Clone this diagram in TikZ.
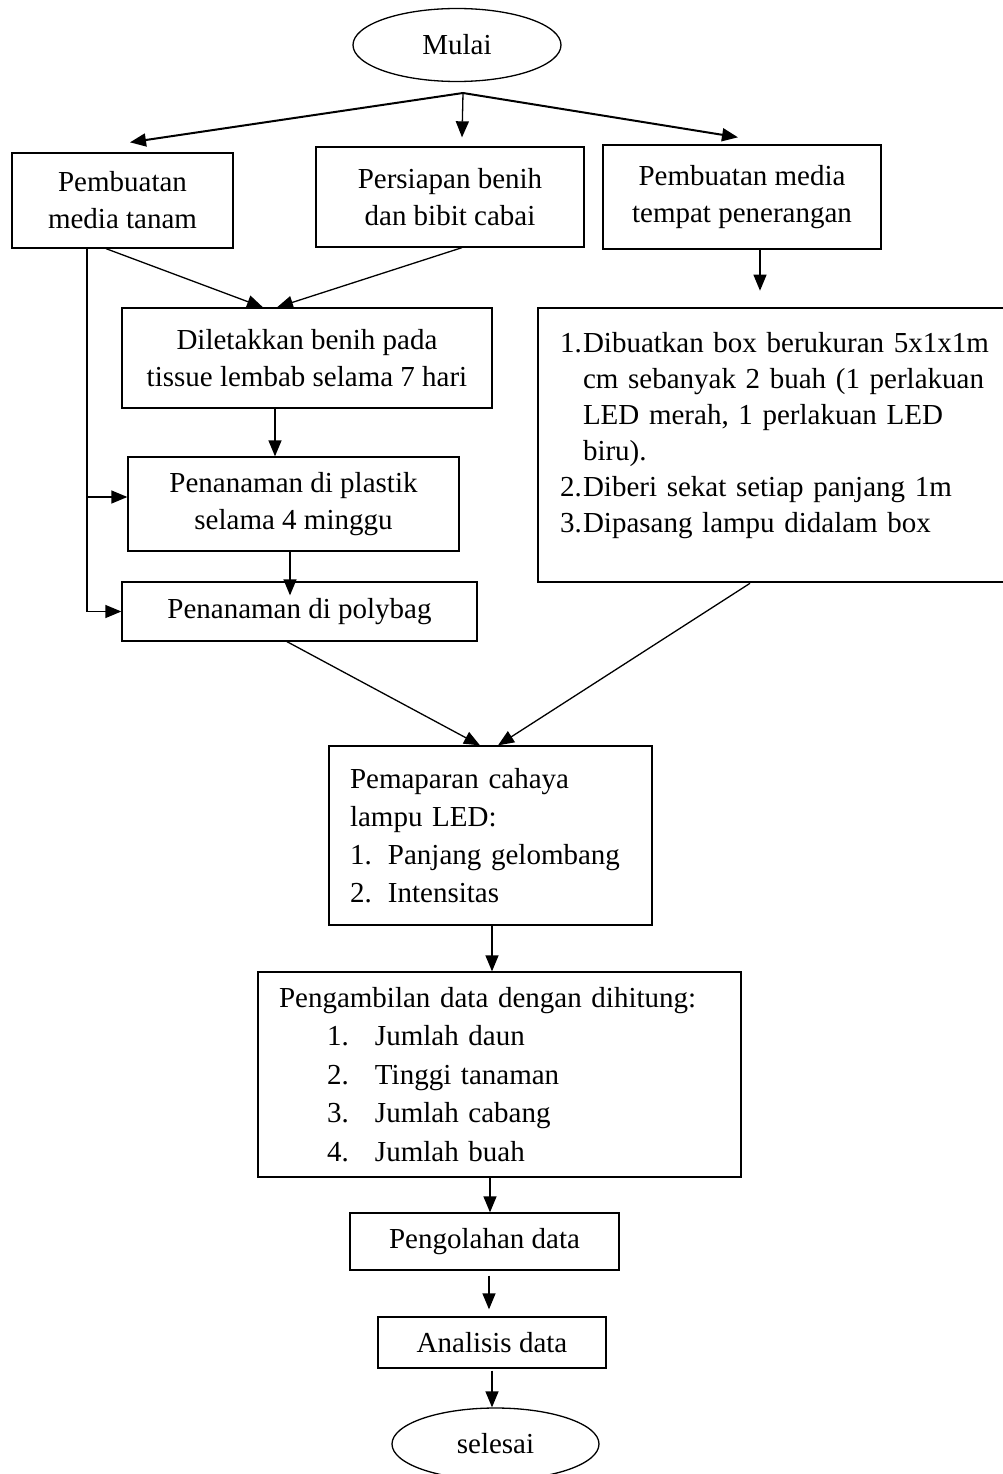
\documentclass[tikz,border=0pt]{standalone}
\usepackage{fontspec}
\setmainfont{Liberation Serif}
\usetikzlibrary{shapes.geometric,arrows.meta}

\begin{document}
\begin{tikzpicture}[x=1pt,y=-1pt,
	box/.style={draw,line width=1.3pt,inner sep=0pt,align=center,font=\fontsize{29}{37}\selectfont},
	term/.style={draw,ellipse,line width=1.3pt,inner sep=0pt,font=\fontsize{29}{37}\selectfont},
	arr/.style={-{Triangle[length=16pt,width=13pt]},line width=1.3pt},
	arrt/.style={arr,line width=2pt}]
			\useasboundingbox (0,0) rectangle (1003,1474);
			
			\node[term,minimum width=208pt,minimum height=73pt] (mulai) at (457,45) {Mulai};
			\coordinate (split) at (463,93);
			
			\node[box,minimum width=221pt,minimum height=95pt] (media) at (122.5,200.5) {Pembuatan\\media tanam};
			\node[box,minimum width=268pt,minimum height=100pt] (benih) at (450,197) {Persiapan benih\\dan bibit cabai};
			\node[box,minimum width=278pt,minimum height=104pt] (tempat) at (742,197) {Pembuatan media\\tempat penerangan};
			
			\node[box,minimum width=370pt,minimum height=100pt] (tissue) at (307,358) {Diletakkan benih pada\\tissue lembab selama 7 hari};
			\node[box,minimum width=331pt,minimum height=94pt] (plastik) at (293.5,504) {Penanaman di plastik\\selama 4 minggu};
			\node[box,minimum width=355pt,minimum height=59pt] (polybag) at (299.5,611.5) {Penanaman di polybag};
			
			\node[box,line width=2.6pt,minimum width=484pt,minimum height=274pt,text width=440pt,align=left,
				font=\fontsize{29}{36}\selectfont] (boxled) at (780,445)
				{\makebox[23pt][l]{1.}Dibuatkan box berukuran 5x1x1m\\
				\hspace*{23pt}cm sebanyak 2 buah (1 perlakuan\\
				\hspace*{23pt}LED merah, 1 perlakuan LED\\
				\hspace*{23pt}biru).\\
				\makebox[23pt][l]{2.}Diberi sekat setiap panjang 1m\\
				\makebox[23pt][l]{3.}Dipasang lampu didalam box\\[-10pt]~};
			
			\node[box,minimum width=323pt,minimum height=179pt,text width=281pt,align=left,
				font=\fontsize{29}{38}\selectfont] (paparan) at (490.5,835.5)
				{Pemaparan cahaya\\lampu LED:\\
				\makebox[38pt][l]{1.}Panjang gelombang\\
				\makebox[38pt][l]{2.}Intensitas};
			
			\node[box,minimum width=483pt,minimum height=205pt,text width=441pt,align=left,
				font=\fontsize{29}{38.5}\selectfont] (ambil) at (499.5,1074.5)
				{Pengambilan data dengan dihitung:\\
				\hspace*{48pt}\makebox[48pt][l]{1.}Jumlah daun\\
				\hspace*{48pt}\makebox[48pt][l]{2.}Tinggi tanaman\\
				\hspace*{48pt}\makebox[48pt][l]{3.}Jumlah cabang\\
				\hspace*{48pt}\makebox[48pt][l]{4.}Jumlah buah};
			
			\node[box,minimum width=269pt,minimum height=57pt] (olah) at (484.5,1241.5) {Pengolahan data};
			\node[box,minimum width=228pt,minimum height=51pt] (analisis) at (492,1342.5) {Analisis data};
			\node[term,minimum width=207pt,minimum height=72pt] (selesai) at (495.5,1444) {selesai};
			
			% dari mulai
			\draw[arrt] (split) -- ([xshift=7.5pt,yshift=10pt]media.north);
			\draw[arr] (split) -- ([xshift=12pt,yshift=9pt]benih.north);
			\draw[arrt] (split) -- ([xshift=-4pt,yshift=7pt]tempat.north);
			
			\draw[arr] ([xshift=-16.5pt]media.south) -- ([xshift=-44pt]tissue.north);
			\draw[arr] ([xshift=12pt]benih.south) -- ([xshift=-30pt]tissue.north);
			\draw[arr] ([xshift=18pt]tempat.south) -- ([xshift=-20pt,yshift=16pt]boxled.north);
			
			% jalur kiri
			\coordinate (lft) at ([xshift=-35.5pt]media.south);
			\coordinate (masuk) at ([yshift=7pt]plastik.west);
			\draw[arr] (lft) |- (polybag.west);
			\draw[arr] (lft |- masuk) -- (masuk);
			
			\draw[arr] ([xshift=-32pt]tissue.south) -- ([xshift=-18.5pt]plastik.north);
			\draw[arr] ([xshift=-3.5pt]plastik.south) -- ([xshift=-9.5pt,yshift=-14pt]polybag.north);
			
			\draw[arr] ([xshift=-12.5pt]polybag.south) -- ([xshift=-10.5pt]paparan.north);
			\draw[arr] ([xshift=-30pt]boxled.south) -- ([xshift=7.5pt]paparan.north);
			
			\draw[arr] ([xshift=1.5pt]paparan.south) -- ([xshift=-7.5pt]ambil.north);
			\draw[arr] ([xshift=-9.5pt]ambil.south) -- ([xshift=5.5pt]olah.north);
			\draw[arr] ([xshift=4.5pt,yshift=-5pt]olah.south) -- ([xshift=-3pt,yshift=7pt]analisis.north);
			\draw[arr] ([yshift=-2pt]analisis.south) -- ([xshift=-3.5pt]selesai.north);
		\end{tikzpicture}
\end{document}
